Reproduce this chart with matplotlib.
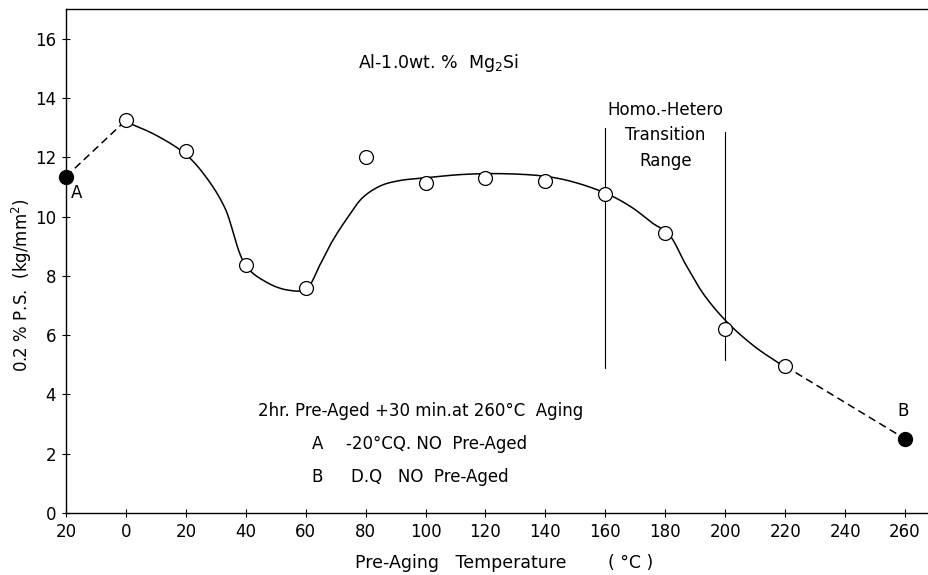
import numpy as np
import matplotlib
matplotlib.use("Agg")
import matplotlib.pyplot as plt

# ── Data ─────────────────────────────────────────────────────────────────────
temps      = [0, 20, 40, 60, 80, 100, 120, 140, 160, 180, 200, 220]
ps_values  = [13.25, 12.2, 8.35, 7.6, 12.0, 11.15, 11.3, 11.2, 10.75, 9.45, 6.2, 4.95]

point_a = (-20, 11.35)   # -20°C quench, no pre-aging
point_b = (260, 2.5)     # D.Q, no pre-aging

# hand-drawn smooth curve, knots
curve_x = [0, 10, 20, 27, 33, 40, 47, 54, 60, 65, 69, 74, 79, 85, 91,
           100, 112, 125, 140, 150, 161, 169, 176, 181, 187, 193, 201, 210, 219]
curve_y = [13.2, 12.75, 12.1, 11.3, 10.3, 8.35, 7.78, 7.52, 7.55, 8.42, 9.19,
           9.97, 10.64, 11.04, 11.21, 11.31, 11.42, 11.45, 11.36, 11.15, 10.75,
           10.3, 9.76, 9.43, 8.35, 7.35, 6.4, 5.6, 4.98]

# transition range markers: (x, y_bottom, y_top)
trans_lines = [(160, 4.9, 13.0), (200, 5.15, 12.85)]

xticks      = [-20, 0, 20, 40, 60, 80, 100, 120, 140, 160, 180, 200, 220, 240, 260]
xticklabels = ["20", "0", "20", "40", "60", "80", "100", "120", "140",
               "160", "180", "200", "220", "240", "260"]
yticks      = [0, 2, 4, 6, 8, 10, 12, 14, 16]


def smooth_curve(xs, ys, n=24, sx=3.0, sy=29.7):
    # centripetal Catmull-Rom through the knots, in roughly pixel-scaled space
    p = np.column_stack([np.asarray(xs) * sx, np.asarray(ys) * sy]).astype(float)
    p = np.vstack([2 * p[0] - p[1], p, 2 * p[-1] - p[-2]])
    out = []
    for i in range(1, len(p) - 2):
        P0, P1, P2, P3 = p[i - 1], p[i], p[i + 1], p[i + 2]
        t0 = 0.0
        t1 = t0 + np.linalg.norm(P1 - P0) ** 0.5
        t2 = t1 + np.linalg.norm(P2 - P1) ** 0.5
        t3 = t2 + np.linalg.norm(P3 - P2) ** 0.5
        t = np.linspace(t1, t2, n, endpoint=False)[:, None]
        A1 = (t1 - t) / (t1 - t0) * P0 + (t - t0) / (t1 - t0) * P1
        A2 = (t2 - t) / (t2 - t1) * P1 + (t - t1) / (t2 - t1) * P2
        A3 = (t3 - t) / (t3 - t2) * P2 + (t - t2) / (t3 - t2) * P3
        B1 = (t2 - t) / (t2 - t0) * A1 + (t - t0) / (t2 - t0) * A2
        B2 = (t3 - t) / (t3 - t1) * A2 + (t - t1) / (t3 - t1) * A3
        C = (t2 - t) / (t2 - t1) * B1 + (t - t1) / (t2 - t1) * B2
        out.append(C)
    out.append(p[-2][None, :])
    out = np.vstack(out)
    return out[:, 0] / sx, out[:, 1] / sy


plt.rcParams['font.family'] = ['DejaVu Sans']

fig = plt.figure(figsize=(9.29, 5.75), dpi=100)
ax = fig.add_axes([0.071, 0.108, 0.929, 0.876])

# solid curve
cx, cy = smooth_curve(curve_x, curve_y)
ax.plot(cx, cy, color='black', lw=1.1, zorder=2)

# dashed ends
ax.plot([point_a[0], temps[0]], [point_a[1], ps_values[0]],
        color='black', lw=1.1, ls=(0, (5, 3)), zorder=2)
ax.plot([temps[-1], point_b[0]], [ps_values[-1], point_b[1]],
        color='black', lw=1.1, ls=(0, (5, 3)), zorder=2)

# transition range lines
for x, y0, y1 in trans_lines:
    ax.plot([x, x], [y0, y1], color='black', lw=0.8, zorder=1)

# data points
ax.plot(temps, ps_values, 'o', ms=10, mfc='white', mec='black', mew=0.9, zorder=3)
ax.plot([point_a[0], point_b[0]], [point_a[1], point_b[1]], 'o', ms=10,
        mfc='black', mec='black', zorder=3, clip_on=False)

ax.text(-18.5, 10.8, "A", fontsize=12, ha='left', va='center')
ax.text(259.5, 3.15, "B", fontsize=12, ha='center', va='bottom')

# annotations
ax.text(77.5, 15.18, "Al-1.0wt. %  Mg$_2$Si", fontsize=12.5, ha='left', va='center')
ax.text(180, 13.6, "Homo.-Hetero", fontsize=12, ha='center', va='center')
ax.text(180, 12.76, "Transition", fontsize=12, ha='center', va='center')
ax.text(180, 11.89, "Range", fontsize=12, ha='center', va='center')

ax.text(98.5, 3.43, "2hr. Pre-Aged +30 min.at 260°C  Aging", fontsize=12,
        ha='center', va='center')
ax.text(62, 2.32, "A", fontsize=12, ha='left', va='center')
ax.text(73.5, 2.32, "-20°CQ. NO  Pre-Aged", fontsize=12, ha='left', va='center')
ax.text(62, 1.21, "B", fontsize=12, ha='left', va='center')
ax.text(75, 1.21, "D.Q   NO  Pre-Aged", fontsize=12, ha='left', va='center')

# axes
ax.set_xlim(-20, 268)
ax.set_ylim(0, 17)
ax.set_xticks(xticks)
ax.set_xticklabels(xticklabels)
ax.set_yticks(yticks)
ax.tick_params(direction='inout', length=6, width=0.8, labelsize=12, pad=4)
ax.spines['right'].set_visible(False)
for s in ['left', 'bottom', 'top']:
    ax.spines[s].set_linewidth(1.0)

fig.text(355 / 929, 1 - 563 / 575, "Pre-Aging   Temperature", fontsize=12.5,
         ha='left', va='center')
fig.text(608 / 929, 1 - 563 / 575, "( °C )", fontsize=12.5, ha='left', va='center')
fig.text(22 / 929, 1 - 285 / 575, "0.2 % P.S.  (kg/mm$^2$)", fontsize=12,
         rotation=90, ha='center', va='center')

fig.savefig("out.png", dpi=100)
